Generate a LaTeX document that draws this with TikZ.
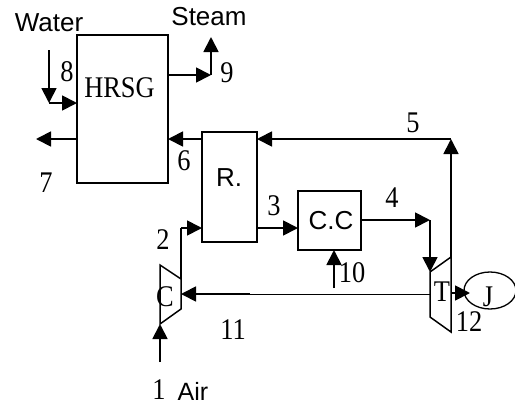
\documentclass[tikz,border=0pt]{standalone}
\usepackage{fontspec}
\setmainfont[FakeStretch=0.88]{Liberation Serif}
\newfontfamily\arialf{Liberation Sans}
\usetikzlibrary{arrows.meta,calc,shapes.geometric}
\tikzset{
  unit/.style={draw,line width=1.5pt,inner sep=0pt,outer sep=0pt,anchor=north west},
  flow/.style={line width=1.8pt,-{Triangle[length=15pt,width=15pt]}},
  pipe/.style={line width=1.8pt},
  thin pipe/.style={line width=0.9pt},
  turbo/.style={line width=1.5pt,line join=miter},
  num/.style={font=\fontsize{30}{30}\selectfont,inner sep=0pt},
  sans/.style={font=\arialf\fontsize{26}{26}\selectfont,inner sep=0pt},
}
\begin{document}
\begin{tikzpicture}[x=1pt,y=-1pt]
\useasboundingbox (0,0) rectangle (515,405);
\node[unit,minimum width=91pt,minimum height=148pt] (hrsg) at (77,35) {};
\node[unit,minimum width=55pt,minimum height=110pt] (r) at (202,132) {};
\node[unit,minimum width=63pt,minimum height=59pt] (cc) at (298,191) {};
\coordinate (cA) at (160,265); \coordinate (cB) at (181,279);
\coordinate (cC) at (181,309); \coordinate (cD) at (160,324);
\draw[turbo] (cA) -- (cB) -- (cC) -- (cD) -- cycle;
\coordinate (tA) at (430,272); \coordinate (tB) at (451,257);
\coordinate (tC) at (451,332); \coordinate (tD) at (430,317);
\draw[turbo] (tA) -- (tB) -- (tC) -- (tD) -- cycle;
\node[draw,line width=1.3pt,ellipse,minimum width=52pt,minimum height=37pt,inner sep=0pt] (j) at (490,290.5) {};
\node[num] (thrsg) at (119.5,88) {HRSG};
\node[sans] (tr) at (229,178) {R.};
\node[sans] (tcc) at (331,221) {C.C};
\node[num] (tc) at (165,297) {C};
\node[num] (tt) at (442,292) {T};
\node[num] (tj) at (488,297) {J};
\node[sans] (water) at (49,23) {Water};
\node[sans] (steam) at (209,17) {Steam};
\node[font=\arialf\fontsize{25}{25}\selectfont,inner sep=0pt] (air) at (193,391) {Air};
\node[num] (n1) at (159,390) {1};
\node[num] (n2) at (163,240) {2};
\node[num] (n3) at (274,206) {3};
\node[num] (n4) at (392,198) {4};
\node[num] (n5) at (413,123) {5};
\node[num] (n6) at (184,161) {6};
\node[num] (n7) at (46,183) {7};
\node[num] (n8) at (67,72) {8};
\node[num] (n9) at (227,73) {9};
\node[num] (n10) at (352,273) {10};
\node[num] (n11) at (233,330) {11};
\node[num] (n12) at (469,322) {12};
\coordinate (w0) at (49,50); \coordinate (w1) at (49,103);
\draw[flow] (w0) -- (w1);
\draw[flow] (w1) -- (w1 -| hrsg.west);
\coordinate (s1) at (211,75);
\draw[flow] (s1 -| hrsg.east) -- (s1);
\coordinate (s2) at (211,37);
\draw[flow] (s1) -- (s2);
\coordinate (g7) at (36,139);
\draw[flow] (g7 -| hrsg.west) -- (g7);
\coordinate (g6) at (202,139);
\draw[flow] (g6) -- (g6 -| hrsg.east);
\coordinate (g5) at (451,139);
\draw[flow] (tB) -- (g5);
\draw[flow] (g5) -- (g5 -| r.east);
\coordinate (a2) at (181,228);
\draw[pipe] (cB) -- (a2);
\draw[flow] (a2) -- (a2 -| r.west);
\coordinate (a3) at (257,228);
\draw[flow] (a3) -- (a3 -| cc.west);
\coordinate (a4) at (430,220);
\draw[flow] (a4 -| cc.east) -- (a4);
\draw[flow] (a4) -- (tA);
\coordinate (f10) at (334,288);
\draw[flow] (f10) -- (f10 |- cc.south);
\coordinate (sh) at (430,294); \coordinate (shm) at (250,294); \coordinate (shc) at (181,294);
\draw[thin pipe] (sh) -- (shm);
\draw[flow] (shm) -- (shc);
\coordinate (air0) at (160,362);
\draw[flow] (air0) -- (cD);
\coordinate (ts) at (451,293); \coordinate (jt) at (470,293);
\draw[flow] (ts) -- (jt);
\end{tikzpicture}
\end{document}
